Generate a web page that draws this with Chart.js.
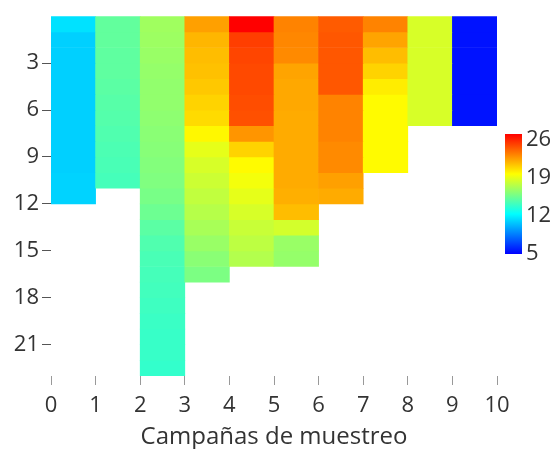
<!DOCTYPE html>
<html>
<head>
<meta charset="utf-8">
<script src="https://cdn.jsdelivr.net/npm/chart.js@4"></script>
<style>
  html, body { margin: 0; padding: 0; background: #fff; }
  #wrap { width: 559px; height: 449px; }
</style>
</head>
<body>
<div id="wrap"><canvas id="myChart" width="559" height="449"></canvas></div>
<script>
// Cell columns (one per campaign), values top to bottom, one per depth unit
const campaigns = ["0", "1", "2", "3", "4", "5", "6", "7", "8", "9"];
const camp0 = [11.2, 10.7, 10.7, 10.7, 10.7, 10.7, 10.7, 10.7, 10.7, 10.7, 10.8, 10.8];
const camp1 = [14.7, 14.7, 14.6, 14.6, 14.5, 14.4, 14.3, 14.2, 14.1, 14.0, 13.9];
const camp2 = [16.4, 16.3, 16.2, 16.1, 16.0, 16.0, 15.9, 15.8, 15.7, 15.6, 15.5, 15.3,
               15.0, 14.5, 14.2, 14.0, 13.9, 13.8, 13.7, 13.6, 13.5, 13.5, 13.4];
const camp3 = [21.6, 21.0, 20.8, 20.7, 20.5, 20.2, 20.0, 19.2, 18.3, 17.9, 17.6, 17.3,
               17.0, 16.6, 16.2, 15.8, 15.4];
const camp4 = [26.0, 24.3, 24.1, 24.0, 24.0, 23.9, 23.8, 21.9, 20.2, 19.1, 18.7, 18.3,
               17.9, 17.5, 17.2, 16.9];
const camp5 = [22.4, 22.3, 22.2, 21.5, 21.4, 21.4, 21.3, 21.3, 21.3, 21.3, 21.3, 21.2,
               20.8, 17.8, 16.2, 16.1];
const camp6 = [23.5, 23.6, 23.6, 23.6, 23.6, 22.4, 22.4, 22.4, 22.2, 22.2, 21.6, 21.3];
const camp7 = [22.4, 21.5, 20.8, 20.2, 19.5, 19.1, 19.1, 19.1, 19.1, 19.1];
const camp8 = [17.9, 17.9, 17.9, 17.9, 17.9, 17.9, 17.9];
const camp9 = [5.5, 5.5, 5.5, 5.5, 5.5, 5.5, 5.5];

const xTicks = [0, 1, 2, 3, 4, 5, 6, 7, 8, 9, 10];
const yTicks = [3, 6, 9, 12, 15, 18, 21];
const colorTicks = [5, 12, 19, 26];
const vMin = 5;
const vMax = 26;
const maxDepth = 23;

const columns = [camp0, camp1, camp2, camp3, camp4, camp5, camp6, camp7, camp8, camp9];
const FONT = "'Open Sans', 'Noto Sans', sans-serif";

// jet without the dark ends: blue -> cyan -> yellow -> red
function valueColor(v) {
  let s = ((v - vMin) / (vMax - vMin)) * 3;
  s = Math.max(0, Math.min(3, s));
  let r, g, b;
  if (s <= 1) { r = 0; g = s; b = 1; }
  else if (s <= 2) { r = s - 1; g = 1; b = 2 - s; }
  else { r = 1; g = 3 - s; b = 0; }
  return `rgb(${Math.round(r * 255)}, ${Math.round(g * 255)}, ${Math.round(b * 255)})`;
}

// one stacked dataset per depth row
const datasets = [];
for (let r = 0; r < maxDepth; r++) {
  datasets.push({
    data: columns.map((col) => (r < col.length ? 1 : null)),
    backgroundColor: columns.map((col) => (r < col.length ? valueColor(col[r]) : "transparent")),
    borderWidth: 0,
    barPercentage: 1,
    categoryPercentage: 1,
  });
}

// colour bar drawn beside the plot
const colorBar = {
  id: "colorBar",
  afterDraw(chart) {
    const c = chart.ctx;
    const x = 505, w = 17, top = 134, bottom = 254;
    const yFor = (v) => 254 - ((v - vMin) / (vMax - vMin)) * (254 - 140);
    const grad = c.createLinearGradient(0, bottom, 0, top);
    grad.addColorStop(0, valueColor(vMin));
    grad.addColorStop(1 / 3, valueColor(vMin + (vMax - vMin) / 3));
    grad.addColorStop(2 / 3, valueColor(vMin + (2 * (vMax - vMin)) / 3));
    grad.addColorStop(1, valueColor(vMax));
    c.save();
    c.fillStyle = grad;
    c.fillRect(x, top, w, bottom - top);
    c.fillStyle = "#333";
    c.font = `22px ${FONT}`;
    c.textAlign = "left";
    c.textBaseline = "middle";
    colorTicks.forEach((v) => c.fillText(String(v), x + w + 4, yFor(v)));
    c.restore();
  },
};

const ctx = document.getElementById("myChart").getContext("2d");
new Chart(ctx, {
  type: "bar",
  data: { labels: campaigns, datasets: datasets },
  options: {
    responsive: false,
    animation: false,
    layout: { padding: { top: 15, right: 62, left: 0, bottom: 0 } },
    plugins: { legend: { display: false }, tooltip: { enabled: false } },
    scales: {
      x: { display: false, stacked: true },
      x2: {
        type: "linear",
        position: "bottom",
        min: 0,
        max: 10,
        offset: false,
        afterBuildTicks: (scale) => { scale.ticks = xTicks.map((v) => ({ value: v })); },
        afterFit: (scale) => { scale.height = 73; },
        ticks: { font: { family: FONT, size: 22 }, color: "#333", padding: 8 },
        grid: { drawOnChartArea: false, offset: false, tickLength: 9, color: "#999" },
        border: { display: false },
        title: {
          display: true,
          text: "Campañas de muestreo",
          font: { family: FONT, size: 24, lineHeight: 1 },
          color: "#333",
          padding: { top: 0, bottom: 0 },
        },
      },
      y: {
        type: "linear",
        stacked: true,
        reverse: true,
        min: 0,
        max: maxDepth,
        afterBuildTicks: (scale) => { scale.ticks = yTicks.map((v) => ({ value: v })); },
        afterFit: (scale) => { scale.width = 51; },
        ticks: { font: { family: FONT, size: 22 }, color: "#333", padding: 3 },
        grid: { drawOnChartArea: false, tickLength: 9, color: "#555" },
        border: { display: false },
      },
    },
  },
  plugins: [colorBar],
});
</script>
</body>
</html>
